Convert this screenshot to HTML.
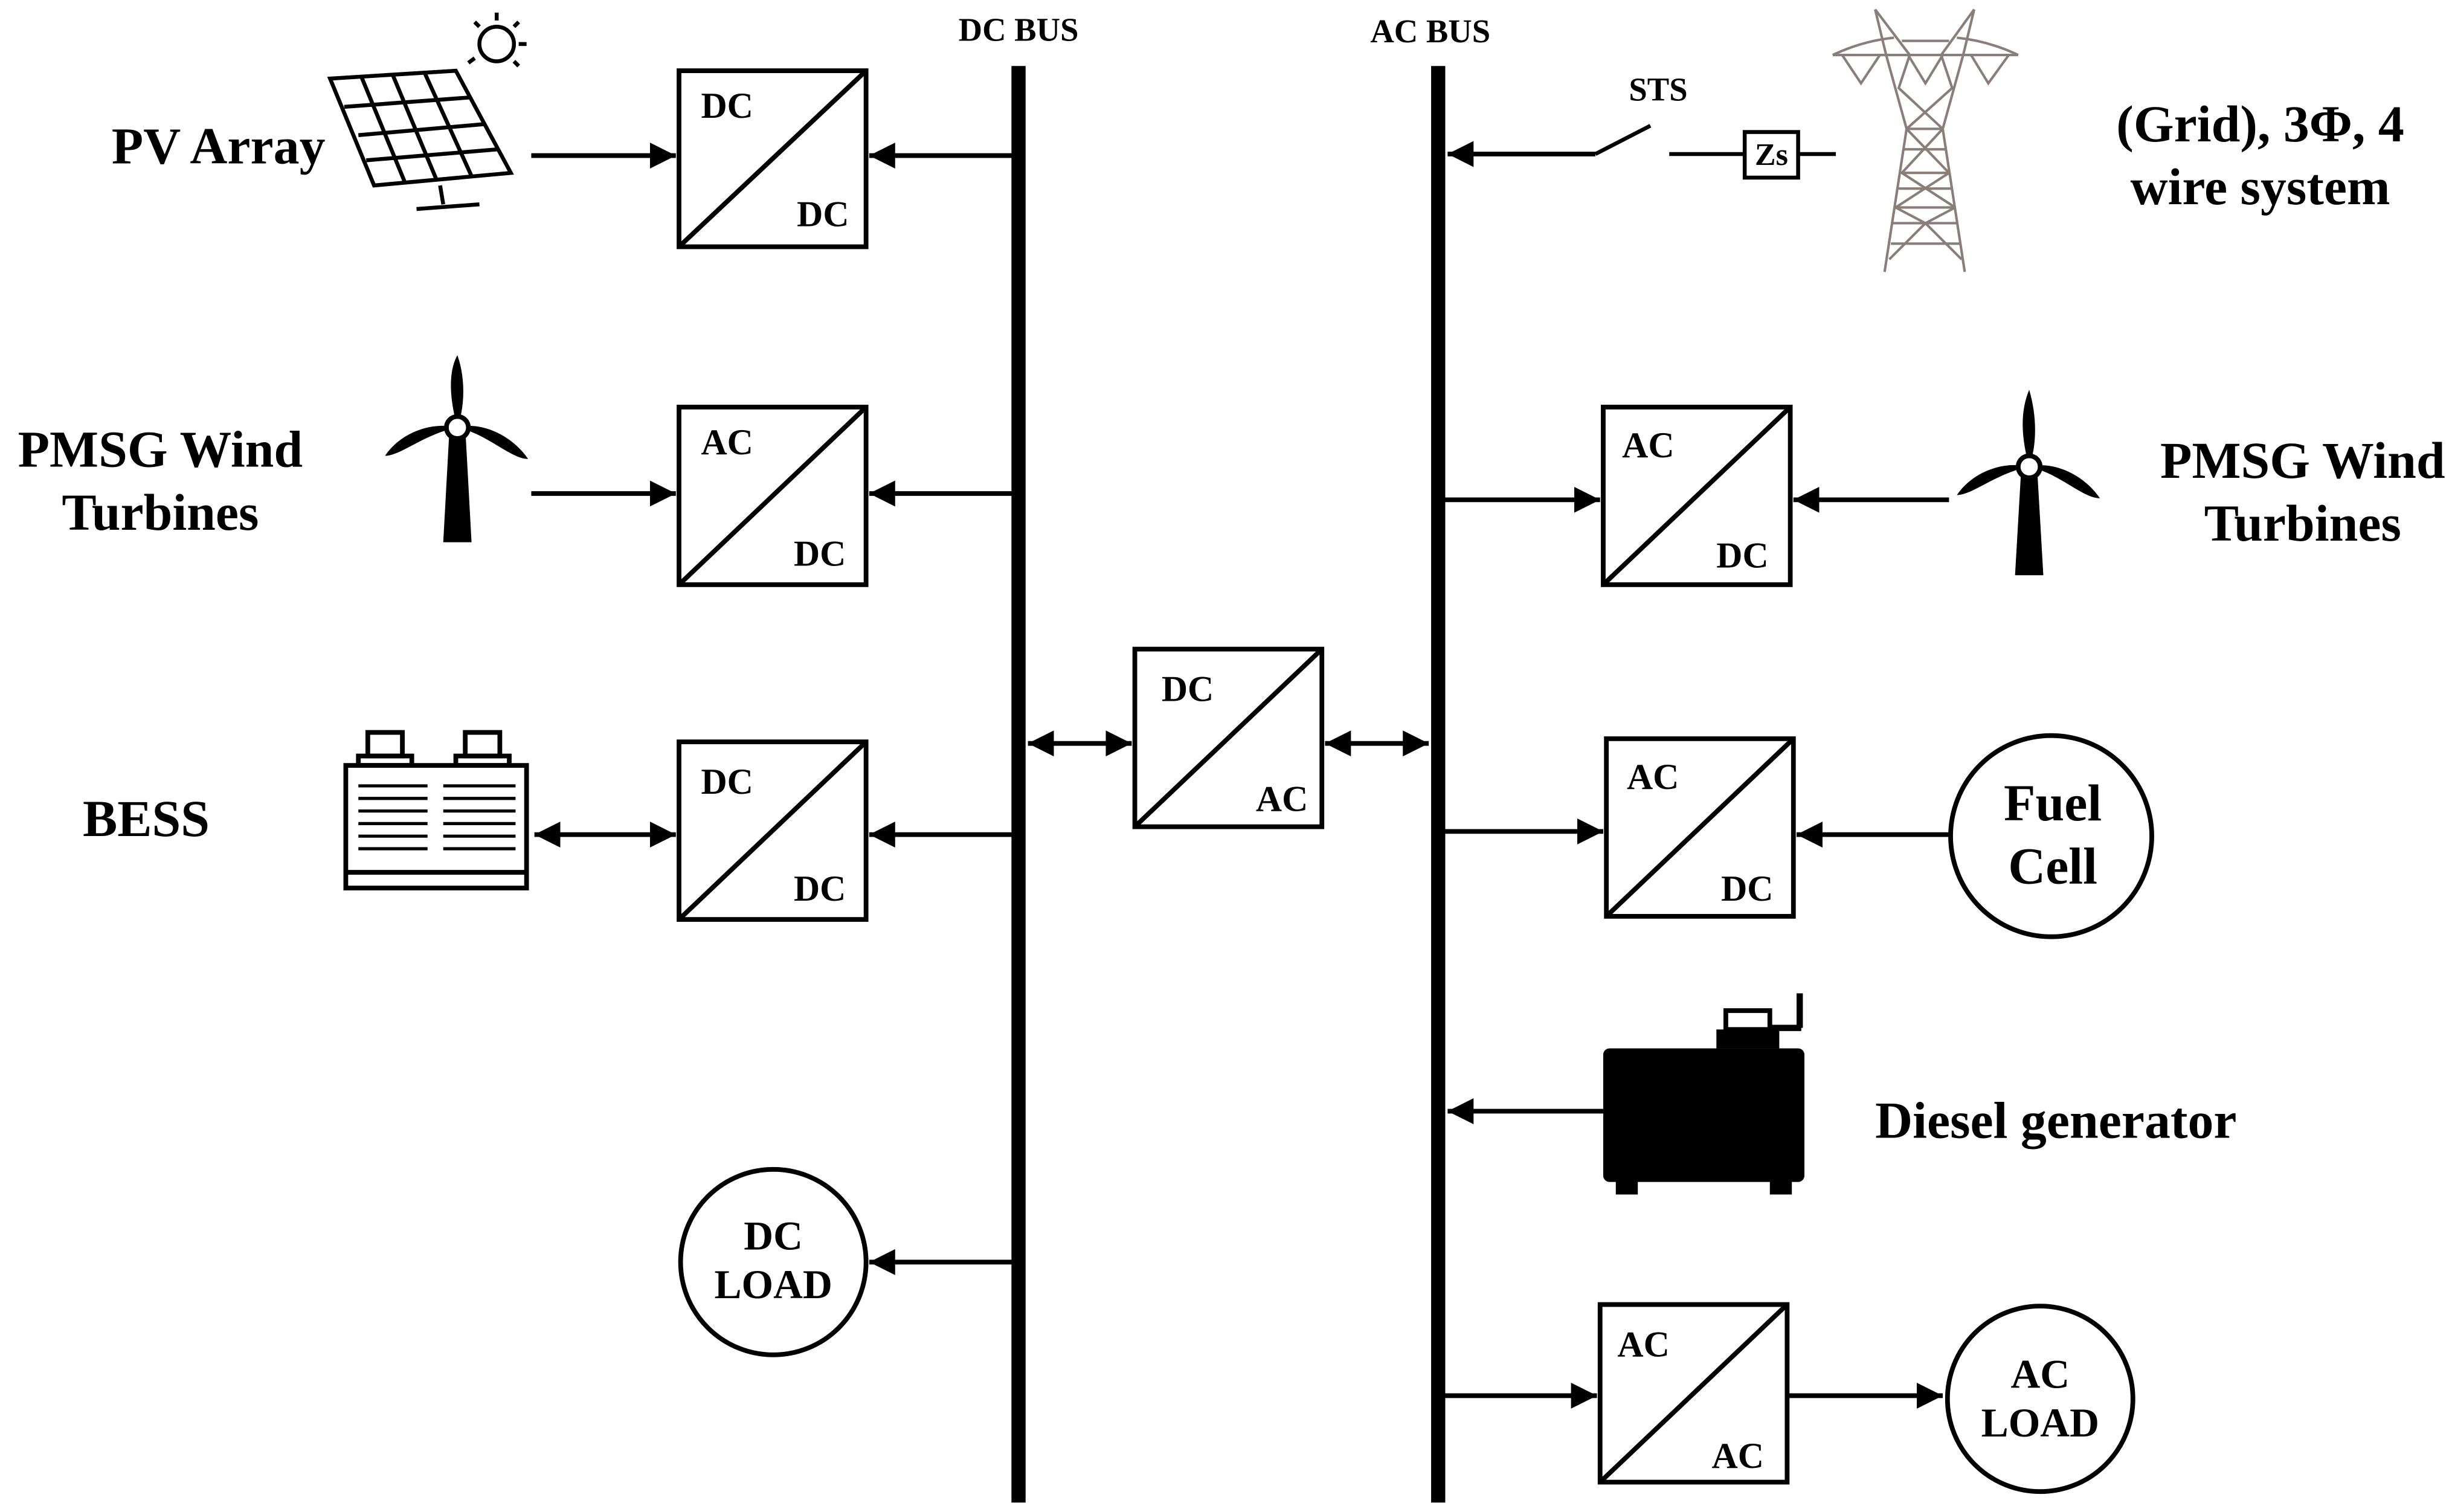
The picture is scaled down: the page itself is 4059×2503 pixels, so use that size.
<!DOCTYPE html>
<html><head><meta charset="utf-8"><style>
html,body{margin:0;padding:0;background:#fff;}
svg{display:block;}
text{font-family:"Liberation Serif",serif;font-weight:bold;fill:#000;}
</style></head><body>
<svg width="4059" height="2503" viewBox="0 0 1560 962" preserveAspectRatio="none" xmlns="http://www.w3.org/2000/svg">
<defs>
<marker id="a" viewBox="0 0 10 10" refX="10" refY="5" markerWidth="5.5" markerHeight="5.5" orient="auto-start-reverse"><path d="M0,0 L10,5 L0,10 z" fill="#000"/></marker>
</defs>
<rect width="1560" height="962" fill="#fff"/>
<!-- buses -->
<line x1="648" y1="42" x2="648" y2="956" stroke="#000" stroke-width="9"/>
<line x1="915" y1="42" x2="915" y2="956" stroke="#000" stroke-width="9"/>
<text x="648" y="26" font-size="21" text-anchor="middle">DC BUS</text>
<text x="910" y="27" font-size="21" text-anchor="middle">AC BUS</text>

<g fill="none" stroke="#000" stroke-width="3">
<rect x="432" y="45" width="119" height="112"/><line x1="432" y1="157" x2="551" y2="45"/>
<rect x="432" y="259" width="119" height="113"/><line x1="432" y1="372" x2="551" y2="259"/>
<rect x="432" y="472" width="119" height="113"/><line x1="432" y1="585" x2="551" y2="472"/>
<rect x="722" y="413" width="119" height="113"/><line x1="722" y1="526" x2="841" y2="413"/>
<rect x="1020" y="259" width="119" height="113"/><line x1="1020" y1="372" x2="1139" y2="259"/>
<rect x="1022" y="470" width="119" height="113"/><line x1="1022" y1="583" x2="1141" y2="470"/>
<rect x="1018" y="830" width="119" height="113"/><line x1="1018" y1="943" x2="1137" y2="830"/>
<circle cx="492" cy="803" r="59"/>
<circle cx="1305" cy="532" r="64"/>
<circle cx="1298" cy="890" r="59"/>
</g>
<g font-size="23">
<text x="446" y="75">DC</text><text x="507" y="144">DC</text>
<text x="446" y="289">AC</text><text x="505" y="360">DC</text>
<text x="446" y="505">DC</text><text x="505" y="573">DC</text>
<text x="739" y="446">DC</text><text x="799" y="516">AC</text>
<text x="1032" y="291">AC</text><text x="1092" y="361">DC</text>
<text x="1035" y="502">AC</text><text x="1095" y="573">DC</text>
<text x="1029" y="863">AC</text><text x="1089" y="934">AC</text>
</g>
<g font-size="26" text-anchor="middle">
<text x="492" y="795">DC</text><text x="492" y="826">LOAD</text>
<text x="1298" y="883">AC</text><text x="1298" y="914">LOAD</text>
</g>
<g font-size="33" text-anchor="middle">
<text x="1306" y="522">Fuel</text><text x="1306" y="562">Cell</text>
</g>
<!-- arrows -->
<g stroke="#000" stroke-width="3" marker-end="url(#a)">
<line x1="338" y1="99" x2="430" y2="99"/>
<line x1="644" y1="99" x2="553" y2="99"/>
<line x1="338" y1="314" x2="430" y2="314"/>
<line x1="644" y1="314" x2="553" y2="314"/>
<line x1="644" y1="531" x2="553" y2="531"/>
<line x1="644" y1="803" x2="553" y2="803"/>
<line x1="919" y1="318" x2="1018" y2="318"/>
<line x1="1240" y1="318" x2="1141" y2="318"/>
<line x1="919" y1="529" x2="1020" y2="529"/>
<line x1="1240" y1="531" x2="1143" y2="531"/>
<line x1="1020" y1="707" x2="921" y2="707"/>
<line x1="919" y1="888" x2="1016" y2="888"/>
<line x1="1137" y1="888" x2="1236" y2="888"/>
<line x1="1015" y1="98" x2="921" y2="98"/>
<line x1="340" y1="531" x2="430" y2="531" marker-start="url(#a)"/>
<line x1="654" y1="473" x2="720" y2="473" marker-start="url(#a)"/>
<line x1="843" y1="473" x2="909" y2="473" marker-start="url(#a)"/>
</g>
<!-- STS / Zs -->
<g stroke="#000" stroke-width="2.5" fill="none">
<line x1="1015" y1="98" x2="1050" y2="80"/>
<line x1="1062" y1="98" x2="1110" y2="98"/>
<rect x="1110" y="84" width="34" height="29" fill="#fff"/>
<line x1="1144" y1="98" x2="1168" y2="98"/>
</g>
<text x="1055" y="64" font-size="21" text-anchor="middle" font-weight="normal">STS</text>
<text x="1127" y="105" font-size="20" text-anchor="middle">Zs</text>
<!-- tower -->
<g stroke="#8a7e78" stroke-width="1.6" fill="none">
<path d="M1193,6 L1200,35 L1213,82 L1199,173"/>
<path d="M1256,6 L1249,35 L1236,82 L1250,173"/>
<path d="M1193,6 L1215,35 L1208,56 L1236,82"/>
<path d="M1256,6 L1235,35 L1242,56 L1213,82"/>
<path d="M1166,35 L1284,35 M1210,26 L1240,26"/>
<path d="M1166,35 Q1185,26 1205,24 M1284,35 Q1265,26 1245,24"/>
<path d="M1172,35 L1184,53 L1196,35 M1214,35 L1225,53 L1236,35 M1254,35 L1265,53 L1278,35"/>
<path d="M1213,82 L1236,82 M1210,110 L1240,110 M1206,132 L1244,132 M1204,142 L1246,142"/>
<path d="M1213,82 L1240,110 L1206,132 M1236,82 L1210,110 L1244,132"/>
<path d="M1206,132 L1225,142 L1202,165 M1244,132 L1225,142 L1248,165"/>
<path d="M1211,95 L1238,95 M1208,120 L1242,120 M1203,155 L1247,155"/>
</g>
<g font-size="33" text-anchor="middle">
<text x="1438" y="90">(Grid), 3Φ, 4</text>
<text x="1438" y="130">wire system</text>
<text x="139" y="104">PV Array</text>
<text x="102" y="297">PMSG Wind</text><text x="102" y="337">Turbines</text>
<text x="93" y="532">BESS</text>
<text x="1465" y="304">PMSG Wind</text><text x="1465" y="344">Turbines</text>
<text x="1308" y="724">Diesel generator</text>
</g>
<!-- PV panel -->
<g stroke="#000" stroke-width="2.5" fill="none">
<path d="M210,50 L290,45 L325,110 L238,118 z"/>
<path d="M219,68 L299,62 M228,86 L308,79 M233,102 L317,95 M230,49 L258,117 M250,48 L278,115 M270,46 L300,112"/>
<path d="M280,118 L282,130 M265,133 L305,130"/>
<circle cx="316" cy="28" r="11"/>
<path d="M316,8 L316,13 M335,28 L330,28 M330,14 L327,17 M302,14 L305,17 M298,40 L302,37 M330,42 L327,39"/>
</g>
<!-- wind turbines -->
<g fill="#000">
<polygon points="286,272 296,272 300,345 282,345"/>
<path d="M291,272 C285,250 286,235 291,226 C296,240 296,258 291,272 z"/>
<path d="M291,272 C270,276 255,290 245,290 C255,275 275,268 291,272 z"/>
<path d="M291,272 C310,276 325,292 336,292 C325,276 305,268 291,272 z"/>
<circle cx="291" cy="272" r="7" fill="#fff" stroke="#000" stroke-width="3"/>
<polygon points="1286,297 1296,297 1300,366 1282,366"/>
<path d="M1291,297 C1285,275 1286,260 1291,248 C1296,265 1296,283 1291,297 z"/>
<path d="M1291,297 C1270,301 1255,315 1245,315 C1255,300 1275,293 1291,297 z"/>
<path d="M1291,297 C1310,301 1325,317 1336,317 C1325,301 1305,293 1291,297 z"/>
<circle cx="1291" cy="297" r="7" fill="#fff" stroke="#000" stroke-width="3"/>
</g>
<!-- battery -->
<g stroke="#000" stroke-width="3" fill="none">
<rect x="220" y="487" width="115" height="78"/>
<rect x="234" y="466" width="22" height="15"/><rect x="296" y="466" width="22" height="15"/>
<rect x="228" y="481" width="34" height="6"/><rect x="290" y="481" width="34" height="6"/>
<line x1="220" y1="555" x2="335" y2="555"/>
</g>
<g stroke="#000" stroke-width="2">
<path d="M228,500 H272 M228,508 H272 M228,516 H272 M228,524 H272 M228,532 H272 M228,540 H272 M282,500 H328 M282,508 H328 M282,516 H328 M282,524 H328 M282,532 H328 M282,540 H328"/>
</g>
<!-- diesel generator -->
<g fill="#000">
<rect x="1020" y="667" width="128" height="85" rx="4"/>
<rect x="1028" y="750" width="14" height="10"/><rect x="1126" y="750" width="14" height="10"/>
<rect x="1092" y="655" width="40" height="12"/>
<rect x="1098" y="643" width="28" height="12" fill="none" stroke="#000" stroke-width="3"/>
<rect x="1143" y="632" width="4" height="22"/><rect x="1126" y="652" width="20" height="4"/>
</g>
</svg>
</body></html>
